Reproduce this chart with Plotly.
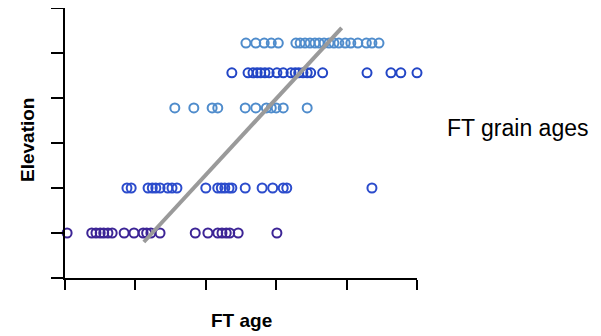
import plotly.graph_objects as go

# FT grain ages (arbitrary age units) grouped by sample elevation (m)
elevations = [500, 1000, 1890, 2280, 2610]
row_colors = ["#3d2596", "#2c4ccc", "#4f8ccc", "#2346c6", "#4f8ccc"]

ages_500 = [0.3, 3.8, 4.4, 5.0, 5.5, 6.1, 6.7, 8.4, 9.8, 11.1, 11.6, 12.2, 13.5,
            18.5, 20.3, 21.7, 22.3, 22.9, 23.4, 24.6, 30.1]
ages_1000 = [8.8, 9.4, 11.8, 12.4, 12.9, 13.5, 14.6, 15.2, 15.9, 20.0, 21.7, 22.2,
             22.7, 23.3, 23.7, 25.6, 28.0, 29.5, 31.0, 31.5, 43.6]
ages_1890 = [15.6, 18.3, 20.9, 21.7, 25.6, 27.1, 28.6, 29.3, 30.0, 31.0, 34.4]
ages_2280 = [23.7, 26.0, 26.7, 27.3, 27.8, 28.4, 29.0, 30.1, 31.0, 32.1, 32.7, 33.2,
             33.8, 34.4, 34.9, 36.6, 42.9, 46.3, 47.7, 50.0]
ages_2610 = [25.7, 27.1, 28.3, 29.3, 30.3, 32.8, 33.4, 34.1, 34.8, 35.5, 36.1, 36.8,
             37.5, 38.2, 38.9, 39.8, 40.6, 41.6, 42.8, 43.6, 44.6]
all_ages = [ages_500, ages_1000, ages_1890, ages_2280, ages_2610]

trend_age = [11.2, 39.3]
trend_elev = [400, 2780]

x_ticks = [0, 10, 20, 30, 40, 50]
y_ticks = [0, 500, 1000, 1500, 2000, 2500, 3000]

fig = go.Figure()
for elev, ages, col in zip(elevations, all_ages, row_colors):
    fig.add_trace(go.Scatter(
        x=ages, y=[elev] * len(ages), mode="markers",
        marker=dict(symbol="circle-open", size=9, color=col, line=dict(width=2, color=col)),
        cliponaxis=False, showlegend=False, hoverinfo="skip"))

fig.add_trace(go.Scatter(
    x=trend_age, y=trend_elev, mode="lines",
    line=dict(color="#9a9a9a", width=4), cliponaxis=False,
    showlegend=False, hoverinfo="skip"))

axis_common = dict(showline=True, linecolor="black", linewidth=1.5, ticks="outside",
                   tickcolor="black", tickwidth=1.5, showticklabels=False,
                   showgrid=False, zeroline=False, tickmode="array")
fig.update_xaxes(range=[0, 50], tickvals=x_ticks, ticklen=10, **axis_common)
fig.update_yaxes(range=[0, 3000], tickvals=y_ticks, ticklen=12, **axis_common)

font = "Liberation Sans, Arial, sans-serif"
# page body has an 8px margin, so the figure is offset by (8, 8)
fig.update_layout(
    width=593, height=328,
    margin=dict(l=57, r=184, t=0, b=58),
    paper_bgcolor="white", plot_bgcolor="white",
    font=dict(family=font, color="black"),
    annotations=[
        dict(text="<b>Elevation</b>", xref="paper", yref="paper", x=-0.108, y=0.511,
             xanchor="center", yanchor="middle", textangle=-90, showarrow=False,
             font=dict(size=19, family=font)),
        dict(text="<b>FT age</b>", xref="paper", yref="paper", x=0.5, y=-0.159,
             xanchor="center", yanchor="middle", showarrow=False,
             font=dict(size=19, family=font)),
        dict(text="FT grain ages", xref="paper", yref="paper", x=1.0795, y=0.556,
             xanchor="left", yanchor="middle", showarrow=False,
             font=dict(size=23, family=font)),
    ],
)

fig.write_html("out.html")
